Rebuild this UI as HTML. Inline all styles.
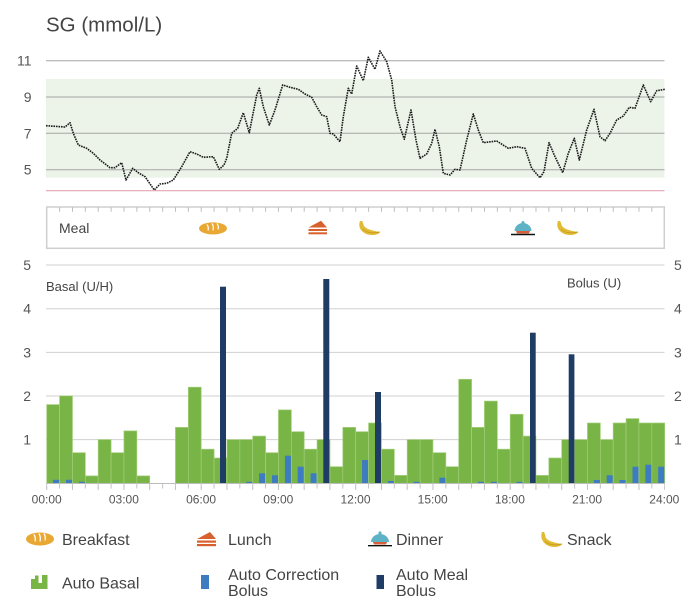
<!DOCTYPE html>
<html><head><meta charset="utf-8"><style>
html,body{margin:0;padding:0;background:#fff;}
svg{display:block;font-family:"Liberation Sans",sans-serif;}
</style></head><body>
<svg width="691" height="608" viewBox="0 0 691 608" xmlns="http://www.w3.org/2000/svg">
<text x="46" y="31.5" font-size="20.5" fill="#444">SG (mmol/L)</text>
<rect x="46" y="79" width="618.5" height="98.7" fill="#ecf4e9"/>
<g stroke="#a6a6a6" stroke-width="1">
<line x1="46" y1="60.7" x2="664.5" y2="60.7"/>
<line x1="46" y1="97" x2="664.5" y2="97"/>
<line x1="46" y1="133.3" x2="664.5" y2="133.3"/>
<line x1="46" y1="169.7" x2="664.5" y2="169.7"/>
</g>
<line x1="46" y1="190.7" x2="664.5" y2="190.7" stroke="#e3a4b6" stroke-width="1.2"/>
<g font-size="14" fill="#555" text-anchor="end">
<text x="31.5" y="65.7">11</text>
<text x="31.5" y="102">9</text>
<text x="31.5" y="138.3">7</text>
<text x="31.5" y="174.7">5</text>
</g>
<path fill="none" stroke="#1a1a1a" stroke-width="1.6" stroke-dasharray="1.6 0.9" stroke-linejoin="round" d="M46,125.7 L65,127 L70,122.7 L73.3,133.3 L78.3,145 L86.7,148.3 L93.3,153.3 L100,160 L110,167.7 L115,167.7 L121.7,162.7 L126,180 L132.7,168.3 L138.3,172.7 L145,176.7 L154.3,190 L160,184 L166.7,183.3 L173.3,180 L181.7,166.7 L190,151.7 L196.7,154 L203.3,157.3 L213.3,156.7 L219.3,169.3 L224,165 L226.7,158.3 L231.7,133.3 L237.7,128.3 L243.3,112.7 L249.3,132.7 L256.7,95 L259.3,88.3 L263.3,106.7 L269.3,125 L275,110 L282.7,85 L290,87.3 L298.3,89.3 L305,94 L311.7,97.3 L316.7,106.7 L321.7,115 L326.7,116.7 L330,133.3 L333.3,134 L340,141.7 L343.3,116.7 L348.3,88.3 L351.7,94 L356.7,66 L363.3,80.7 L368.3,57.3 L375,69.3 L380,51 L386.7,61.7 L391.7,80 L395,106.7 L400,126.7 L404.3,139.3 L411,110 L416,140 L420,158.3 L426.7,154 L431.7,143.3 L435,129.3 L439.3,146.7 L443.3,173.3 L450,175 L455,169.3 L460,170 L466.7,140 L473.3,114 L478.3,130 L483.3,142.7 L496.7,141 L508.3,148.3 L516.7,146.7 L525,148.3 L531.7,168.3 L540,177.7 L544,171.7 L549,142.7 L555,156.7 L562.7,172.7 L568.3,153.3 L574.3,138.3 L579.3,160 L586.7,130 L594,109.3 L600,136.7 L605,140.7 L610,133.3 L616.7,120 L623.3,116 L629.3,107.3 L635,108.3 L643.3,85 L650.7,101.7 L656.7,90.7 L665,89.3"/>

<rect x="46.7" y="207" width="617.6" height="41.3" fill="#fff" stroke="#cfcfcf" stroke-width="1.5"/>
<line x1="59.1" y1="209.5" x2="664" y2="209.5" stroke="#bdbdbd" stroke-width="4.5" stroke-dasharray="1 11.875"/>
<text x="59" y="233" font-size="14" fill="#444">Meal</text>
<g transform="translate(213,228.4)">
<ellipse cx="0" cy="0" rx="14" ry="6" fill="#e9a733"/>
<path d="M-6,-4 Q-4,-1 -5,2 M-1,-5 Q1,-2 0,2 M4,-5 Q6,-2 5,1" stroke="#fff" stroke-width="1.2" fill="none"/>
</g>
<polygon points="308.5,227.5 321,220.8 327,227.5" fill="#d8602c"/>
<rect x="308.5" y="229" width="18.5" height="2" fill="#d8602c"/>
<rect x="308.5" y="232.3" width="18.5" height="2" fill="#d8602c"/>
<g transform="translate(358,221)">
<path d="M2,0 C-1,8 6,14 14,14 C18,14 21,13 22,11 C17,10 9,9 6,5 C5,3 5,1 4,0 Z" fill="#e2bb34"/>
<path d="M5,8 C8,12 15,12.5 22,11" stroke="#c99d22" stroke-width="0.9" fill="none"/>
</g>
<path d="M514.5,231 A8.5,8 0 0 1 531.5,231 Z" fill="#5db2c5"/>
<circle cx="523" cy="222.5" r="1.5" fill="#5db2c5"/>
<path d="M516,231 L530,231 L529,233.5 L517,233.5 Z" fill="#d7603a"/>
<line x1="511" y1="234.5" x2="535" y2="234.5" stroke="#111" stroke-width="1.4"/>
<g transform="translate(556,221)">
<path d="M2,0 C-1,8 6,14 14,14 C18,14 21,13 22,11 C17,10 9,9 6,5 C5,3 5,1 4,0 Z" fill="#e2bb34"/>
<path d="M5,8 C8,12 15,12.5 22,11" stroke="#c99d22" stroke-width="0.9" fill="none"/>
</g>

<g stroke="#d0d0d0" stroke-width="1">
<line x1="46" y1="265" x2="664.5" y2="265"/>
<line x1="46" y1="308.7" x2="664.5" y2="308.7"/>
<line x1="46" y1="352.4" x2="664.5" y2="352.4"/>
<line x1="46" y1="396" x2="664.5" y2="396"/>
<line x1="46" y1="439.6" x2="664.5" y2="439.6"/>
</g>
<g font-size="14" fill="#555">
<text x="31" y="270" text-anchor="end">5</text>
<text x="31" y="313.7" text-anchor="end">4</text>
<text x="31" y="357.4" text-anchor="end">3</text>
<text x="31" y="401" text-anchor="end">2</text>
<text x="31" y="444.6" text-anchor="end">1</text>
<text x="674" y="270">5</text>
<text x="674" y="313.7">4</text>
<text x="674" y="357.4">3</text>
<text x="674" y="401">2</text>
<text x="674" y="444.6">1</text>
</g>
<text x="46" y="291" font-size="13" fill="#444">Basal (U/H)</text>
<text x="567" y="287.5" font-size="13" fill="#444">Bolus (U)</text>

<g fill="#79b446" stroke="#a3cf7a" stroke-width="0.7">
<rect x="46.70" y="404.6" width="12.875" height="78.7"/>
<rect x="59.58" y="395.9" width="12.875" height="87.4"/>
<rect x="72.45" y="452.7" width="12.875" height="30.6"/>
<rect x="85.33" y="475.9" width="12.875" height="7.4"/>
<rect x="98.20" y="439.6" width="12.875" height="43.7"/>
<rect x="111.08" y="452.7" width="12.875" height="30.6"/>
<rect x="123.95" y="430.9" width="12.875" height="52.4"/>
<rect x="136.83" y="475.9" width="12.875" height="7.4"/>
<rect x="175.45" y="427.4" width="12.875" height="55.9"/>
<rect x="188.33" y="387.2" width="12.875" height="96.1"/>
<rect x="201.20" y="449.2" width="12.875" height="34.1"/>
<rect x="214.08" y="458" width="12.875" height="25.3"/>
<rect x="226.95" y="439.6" width="25.75" height="43.7"/>
<rect x="252.70" y="436.1" width="12.875" height="47.2"/>
<rect x="265.58" y="452.7" width="12.875" height="30.6"/>
<rect x="278.45" y="409.9" width="12.875" height="73.4"/>
<rect x="291.33" y="431.7" width="12.875" height="51.6"/>
<rect x="304.20" y="449.2" width="12.875" height="34.1"/>
<rect x="317.08" y="439.6" width="12.875" height="43.7"/>
<rect x="329.95" y="466.7" width="12.875" height="16.6"/>
<rect x="342.83" y="427.4" width="12.875" height="55.9"/>
<rect x="355.70" y="431.7" width="12.875" height="51.6"/>
<rect x="368.58" y="423" width="12.875" height="60.3"/>
<rect x="381.45" y="449.2" width="12.875" height="34.1"/>
<rect x="394.33" y="475.4" width="12.875" height="7.9"/>
<rect x="407.20" y="439.6" width="25.75" height="43.7"/>
<rect x="432.95" y="452.7" width="12.875" height="30.6"/>
<rect x="445.83" y="466.7" width="12.875" height="16.6"/>
<rect x="458.70" y="379.3" width="12.875" height="104"/>
<rect x="471.58" y="427.4" width="12.875" height="55.9"/>
<rect x="484.45" y="401.1" width="12.875" height="82.2"/>
<rect x="497.33" y="449.2" width="12.875" height="34.1"/>
<rect x="510.20" y="414.3" width="12.875" height="69"/>
<rect x="523.08" y="436.1" width="12.875" height="47.2"/>
<rect x="535.95" y="475.4" width="12.875" height="7.9"/>
<rect x="548.83" y="458" width="12.875" height="25.3"/>
<rect x="561.70" y="439.6" width="25.75" height="43.7"/>
<rect x="587.45" y="423" width="12.875" height="60.3"/>
<rect x="600.33" y="439.6" width="12.875" height="43.7"/>
<rect x="613.20" y="423" width="12.875" height="60.3"/>
<rect x="626.08" y="418.6" width="12.875" height="64.7"/>
<rect x="638.95" y="423" width="25.75" height="60.3"/>
</g>
<g stroke="#a3cf7a" stroke-width="0.7">
<line x1="239.83" y1="439.6" x2="239.83" y2="483.3"/>
<line x1="420.08" y1="439.6" x2="420.08" y2="483.3"/>
<line x1="574.58" y1="439.6" x2="574.58" y2="483.3"/>
<line x1="651.83" y1="423" x2="651.83" y2="483.3"/>
</g>
<g fill="#3d7cc0">
<rect x="53.1" y="479.8" width="6" height="3.5"/>
<rect x="66" y="479.8" width="6" height="3.5"/>
<rect x="78.9" y="481.8" width="6" height="1.5"/>
<rect x="246.2" y="481.8" width="6" height="1.5"/>
<rect x="259.1" y="473.3" width="6" height="10"/>
<rect x="272" y="475.3" width="6" height="8"/>
<rect x="284.9" y="455.7" width="6" height="27.6"/>
<rect x="297.7" y="466.7" width="6" height="16.6"/>
<rect x="310.6" y="473.3" width="6" height="10"/>
<rect x="362.1" y="460" width="6" height="23.3"/>
<rect x="387.9" y="481" width="6" height="2.3"/>
<rect x="413.6" y="481.8" width="6" height="1.5"/>
<rect x="439.4" y="477.7" width="6" height="5.6"/>
<rect x="478" y="481.8" width="6" height="1.5"/>
<rect x="490.9" y="481.8" width="6" height="1.5"/>
<rect x="516.6" y="481.8" width="6" height="1.5"/>
<rect x="593.9" y="480" width="6" height="3.3"/>
<rect x="606.7" y="475.3" width="6" height="8"/>
<rect x="619.6" y="480" width="6" height="3.3"/>
<rect x="632.5" y="466.7" width="6" height="16.6"/>
<rect x="645.4" y="464.7" width="6" height="18.6"/>
<rect x="658.2" y="466.7" width="6" height="16.6"/>
</g>
<g fill="#1f3c64">
<rect x="220" y="286.7" width="6" height="196.6"/>
<rect x="323.3" y="279" width="6" height="204.3"/>
<rect x="375" y="392" width="6" height="91.3"/>
<rect x="530" y="332.7" width="5.7" height="150.6"/>
<rect x="568.7" y="354.3" width="5.7" height="129"/>
</g>
<line x1="46" y1="483.5" x2="664.5" y2="483.5" stroke="#bdbdbd" stroke-width="1"/>
<line x1="46.2" y1="486" x2="665" y2="486" stroke="#c4c4c4" stroke-width="5" stroke-dasharray="1 11.875"/>
<line x1="46.2" y1="488.5" x2="665" y2="488.5" stroke="#c4c4c4" stroke-width="3" stroke-dasharray="1 24.75"/>
<g font-size="12" fill="#555" text-anchor="middle">
<text x="46.7" y="503.3">00:00</text>
<text x="123.9" y="503.3">03:00</text>
<text x="201.1" y="503.3">06:00</text>
<text x="278.3" y="503.3">09:00</text>
<text x="355.5" y="503.3">12:00</text>
<text x="432.7" y="503.3">15:00</text>
<text x="509.9" y="503.3">18:00</text>
<text x="587.1" y="503.3">21:00</text>
<text x="664.3" y="503.3">24:00</text>
</g>

<g transform="translate(40,539)">
<ellipse cx="0" cy="0" rx="14" ry="6.5" fill="#e9a733"/>
<path d="M-6,-4.5 Q-4,-1 -5,2.5 M-1,-5.5 Q1,-2 0,2.5 M4,-5.5 Q6,-2 5,1.5" stroke="#fff" stroke-width="1.3" fill="none"/>
</g>
<text x="62" y="544.8" font-size="16" fill="#444">Breakfast</text>
<polygon points="197,539 210,532 216,539" fill="#d8602c"/>
<rect x="197" y="540.5" width="19" height="2.2" fill="#d8602c"/>
<rect x="197" y="544" width="19" height="2.2" fill="#d8602c"/>
<text x="228" y="544.8" font-size="16" fill="#444">Lunch</text>
<path d="M371,542 A9,8 0 0 1 389,542 Z" fill="#5db2c5"/>
<circle cx="380" cy="533" r="1.6" fill="#5db2c5"/>
<path d="M373,542 L387,542 L386,544.5 L374,544.5 Z" fill="#d7603a"/>
<line x1="368" y1="545.7" x2="392" y2="545.7" stroke="#111" stroke-width="1.4"/>
<text x="396" y="544.8" font-size="16" fill="#444">Dinner</text>
<g transform="translate(540,532)">
<path d="M2,0 C-1,8 6,15 14,15 C18,15 21,14 22,12 C17,11 9,10 6,6 C5,4 5,1 4,0 Z" fill="#e2bb34"/>
<path d="M5,9 C8,13 15,13.5 22,12" stroke="#c99d22" stroke-width="0.9" fill="none"/>
</g>
<text x="567" y="544.8" font-size="16" fill="#444">Snack</text>
<path d="M31,589 L31,579 L35,579 L35,575.5 L38.5,575.5 L38.5,583 L42,583 L42,575 L47.5,575 L47.5,589 Z" fill="#79b446"/>
<text x="62" y="588.7" font-size="16" fill="#444">Auto Basal</text>
<rect x="201" y="575" width="8" height="14" fill="#3d7cc0"/>
<text x="228" y="580" font-size="16" fill="#444">Auto Correction</text>
<text x="228" y="596" font-size="16" fill="#444">Bolus</text>
<rect x="376.5" y="575" width="7.5" height="14" fill="#1f3c64"/>
<text x="396" y="580" font-size="16" fill="#444">Auto Meal</text>
<text x="396" y="596" font-size="16" fill="#444">Bolus</text>
</svg>
</body></html>
